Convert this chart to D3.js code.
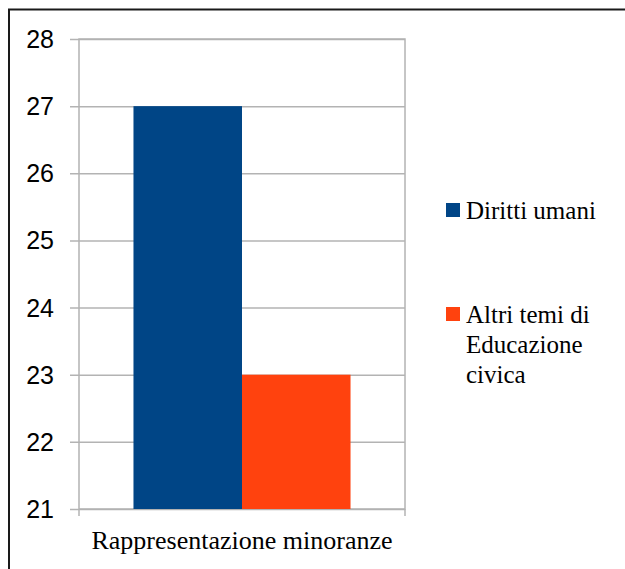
<!DOCTYPE html>
<html>
<head>
<meta charset="utf-8">
<script src="https://cdn.jsdelivr.net/npm/d3@7"></script>
</head>
<body style="margin:0; background:#fff">
<svg id="chart" width="625" height="569" style="display:block" font-family="Liberation Serif"></svg>
<script>
// Chart data
const categories = ["Rappresentazione minoranze"];
const seriesNames = ["Diritti umani", "Altri temi di Educazione civica"];
const legendLines = [["Diritti umani"], ["Altri temi di", "Educazione", "civica"]];
const seriesValues = [[27], [23]];
const seriesColors = ["#004586", "#ff420e"];
const yTicks = [21, 22, 23, 24, 25, 26, 27, 28];

const svg = d3.select("#chart");

// Outer frame (only top and left edges fall inside the canvas)
svg.append("rect")
  .attr("x", 9).attr("y", 9.5)
  .attr("width", 640).attr("height", 600)
  .attr("fill", "none")
  .attr("stroke", "#1a1a1a")
  .attr("stroke-width", 2);

const plot = { left: 79, right: 405, top: 39, bottom: 509 };

const y = d3.scaleLinear().domain([21, 28]).range([plot.bottom, plot.top]);
const x0 = d3.scaleBand().domain(categories).range([plot.left, plot.right]).paddingInner(0).paddingOuter(0.251);
const x1 = d3.scaleBand().domain(d3.range(seriesNames.length)).range([0, x0.bandwidth()]);

const grid = "#b3b3b3";

// Horizontal grid lines with left tick stubs
svg.append("g")
  .attr("transform", `translate(${plot.left},0)`)
  .call(d3.axisLeft(y).tickValues(yTicks).tickSize(-(plot.right - plot.left)).tickFormat(""))
  .call(g => g.select(".domain").remove())
  .call(g => g.selectAll(".tick line").attr("stroke", grid).attr("stroke-width", 1.5).attr("x1", -9));

// Plot frame
svg.append("rect")
  .attr("x", plot.left).attr("y", plot.top)
  .attr("width", plot.right - plot.left).attr("height", plot.bottom - plot.top)
  .attr("fill", "none").attr("stroke", grid).attr("stroke-width", 1.5);

// Bottom tick marks at the category edges
svg.append("g").selectAll("line")
  .data([plot.left, plot.right])
  .join("line")
  .attr("x1", d => d).attr("x2", d => d)
  .attr("y1", plot.bottom).attr("y2", plot.bottom + 7)
  .attr("stroke", grid).attr("stroke-width", 1.5);

// Y tick labels (sans)
svg.append("g")
  .attr("font-family", "Liberation Sans")
  .selectAll("text")
  .data(yTicks)
  .join("text")
  .attr("x", 54).attr("y", d => y(d))
  .attr("dy", "0.36em")
  .attr("text-anchor", "end")
  .attr("font-size", 25)
  .attr("fill", "#000")
  .text(d => d);

// Bars
categories.forEach((cat, ci) => {
  seriesValues.forEach((vals, si) => {
    svg.append("rect")
      .attr("x", x0(cat) + x1(si))
      .attr("y", y(vals[ci]))
      .attr("width", x1.bandwidth())
      .attr("height", y(21) - y(vals[ci]))
      .attr("fill", seriesColors[si]);
  });
});

// Category label (serif, inherited from the svg root)
svg.append("g").selectAll("text")
  .data(categories)
  .join("text")
  .attr("x", d => x0(d) + x0.bandwidth() / 2)
  .attr("y", 549)
  .attr("text-anchor", "middle")
  .attr("font-size", 26)
  .attr("fill", "#000")
  .text(d => d);

// Legend
const legendTop = [203, 307];
const legend = svg.append("g");
seriesNames.forEach((name, i) => {
  legend.append("rect")
    .attr("x", 446).attr("y", legendTop[i])
    .attr("width", 14).attr("height", 14)
    .attr("fill", seriesColors[i]);
  const t = legend.append("text")
    .attr("x", 466).attr("y", legendTop[i] + 16)
    .attr("font-size", 25)
    .attr("fill", "#000");
  legendLines[i].forEach((line, li) => {
    t.append("tspan").attr("x", 466).attr("dy", li === 0 ? 0 : 30).text(line);
  });
});
</script>
</body>
</html>
